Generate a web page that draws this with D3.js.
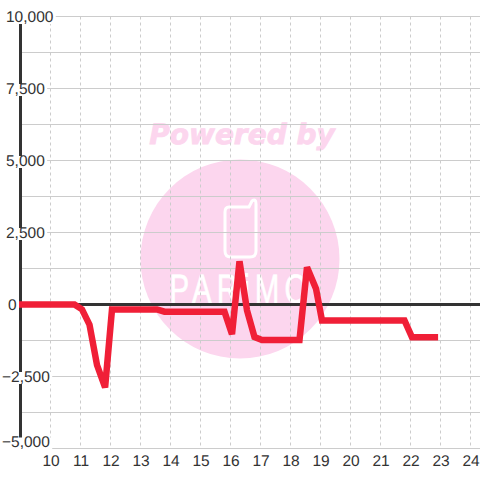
<!DOCTYPE html>
<html>
<head>
<meta charset="utf-8">
<script src="https://cdn.jsdelivr.net/npm/d3@7"></script>
<style>
  html, body { margin: 0; padding: 0; background: #fff; }
  text { font-family: "Liberation Sans", sans-serif; text-rendering: geometricPrecision; }
</style>
</head>
<body>
<div id="chart-container"></div>
<script>
  // Values
  var hours = [8.9, 10.8, 11.05, 11.3, 11.55, 11.82, 12.05, 13.55, 13.8, 15.8, 16.05, 16.3, 16.55, 16.8, 17.05, 18.3, 18.55, 18.85, 19.05, 21.8, 22.05, 22.92];
  var values = [0, 0, -170, -700, -2100, -2880, -170, -170, -250, -250, -1030, 1500, -200, -1130, -1230, -1230, 1290, 550, -555, -555, -1140, -1140];
  var xTicks = [10, 11, 12, 13, 14, 15, 16, 17, 18, 19, 20, 21, 22, 23, 24];
  var yLabels = [10000, 7500, 5000, 2500, 0, -2500, -5000];
  var yGrid = [10000, 8750, 7500, 6250, 5000, 3750, 2500, 1250, 0, -1250, -2500, -3750, -5000];

  var width = 480;
  var height = 480;

  var svg = d3.select('#chart-container')
      .append('svg')
      .attr('width', width)
      .attr('height', height)
      .style('display', 'block');

  var xScale = d3.scaleLinear().domain([10, 24]).range([50.5, 470.5]);
  var yScale = d3.scaleLinear().domain([10000, -5000]).range([16.5, 448.5]);

  // Watermark behind the grid
  var mark = svg.append('g');
  mark.append('text')
      .attr('x', 242)
      .attr('y', 144)
      .attr('text-anchor', 'middle')
      .attr('font-size', 28)
      .attr('font-weight', 'bold')
      .attr('font-style', 'italic')
      .attr('fill', '#fcd6ee')
      .attr('stroke', '#fcd6ee')
      .attr('stroke-width', 0.8)
      .style('font-family', '"DejaVu Sans", sans-serif')
      .text('Powered by');
  mark.append('circle')
      .attr('cx', 240)
      .attr('cy', 259)
      .attr('r', 99.5)
      .attr('fill', '#fcd6ee');
  mark.append('path')
      .attr('d', 'M229 207 H249 L252 201 Q256 198 256 204 V251 Q256 257 250 257 H231 Q225 257 225 251 V212 Q225 207 229 207')
      .attr('fill', 'none')
      .attr('stroke', '#fff')
      .attr('stroke-width', 3);
  mark.append('text')
      .attr('transform', 'translate(241,303) scale(0.72,1)')
      .attr('text-anchor', 'middle')
      .attr('font-size', 41)
      .attr('letter-spacing', 7)
      .attr('fill', '#fff')
      .attr('stroke', '#fff')
      .attr('stroke-width', 0.6)
      .text('PARiMO');

  // Grid lines
  svg.append('g').selectAll('line')
      .data(yGrid)
      .enter()
      .append('line')
      .attr('x1', 20)
      .attr('x2', width)
      .attr('y1', function(d) { return yScale(d); })
      .attr('y2', function(d) { return yScale(d); })
      .attr('stroke', '#ccc')
      .attr('stroke-width', 1);

  svg.append('g').selectAll('line')
      .data(xTicks)
      .enter()
      .append('line')
      .attr('x1', function(d) { return xScale(d); })
      .attr('x2', function(d) { return xScale(d); })
      .attr('y1', yScale(10000))
      .attr('y2', yScale(-5000))
      .attr('stroke', '#ccc')
      .attr('stroke-width', 1)
      .attr('stroke-dasharray', '3,3');

  // Axes: vertical bar and the zero line
  svg.append('line')
      .attr('x1', 20.5)
      .attr('x2', 20.5)
      .attr('y1', yScale(10000))
      .attr('y2', yScale(-5000))
      .attr('stroke', '#333')
      .attr('stroke-width', 3);
  svg.append('line')
      .attr('x1', 20)
      .attr('x2', width)
      .attr('y1', yScale(0))
      .attr('y2', yScale(0))
      .attr('stroke', '#333')
      .attr('stroke-width', 3);

  // The series
  var line = d3.line()
      .x(function(d, i) { return xScale(hours[i]); })
      .y(function(d) { return yScale(d); });
  svg.append('path')
      .attr('d', line(values))
      .attr('fill', 'none')
      .attr('stroke', '#f01f37')
      .attr('stroke-width', 6.5);

  // Y labels sit on white boxes that cut the grid and the axis
  var yLabel = svg.append('g').selectAll('g')
      .data(yLabels)
      .enter()
      .append('g');
  yLabel.append('text')
      .attr('x', function(d) { return d < 0 ? 2 : (d === 0 ? 8 : 6); })
      .attr('y', function(d) { return d === -5000 ? yScale(d) - 1.5 : yScale(d) + 5; })
      .attr('font-size', 15.5)
      .attr('fill', '#333')
      .text(function(d) { return d3.format(',')(d); });
  yLabel.each(function() {
    var box = this.querySelector('text').getBBox();
    d3.select(this).insert('rect', 'text')
        .attr('x', box.x - 1)
        .attr('y', box.y + 3.5)
        .attr('width', box.width + 3)
        .attr('height', box.height - 5)
        .attr('fill', '#fff');
  });

  // X labels
  svg.append('g').selectAll('text')
      .data(xTicks)
      .enter()
      .append('text')
      .attr('x', function(d) { return xScale(d) + 0.5; })
      .attr('y', 466)
      .attr('text-anchor', 'middle')
      .attr('font-size', 15.5)
      .attr('fill', '#333')
      .text(function(d) { return d; });
</script>
</body>
</html>
